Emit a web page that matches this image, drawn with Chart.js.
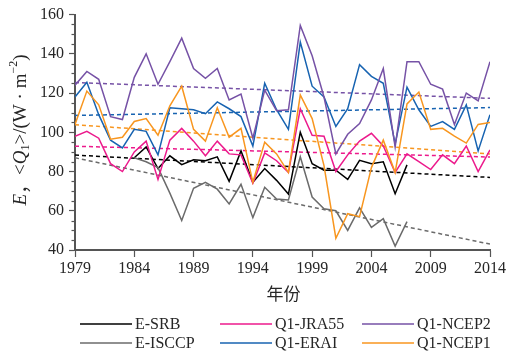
<!DOCTYPE html>
<html>
<head>
<meta charset="utf-8">
<script src="https://cdn.jsdelivr.net/npm/chart.js@4/dist/chart.umd.min.js"></script>
<style>
  html, body { margin: 0; padding: 0; background: #fff; }
  #wrap { width: 514px; height: 355px; }
</style>
</head>
<body>
<div id="wrap"><canvas id="c" width="514" height="355"></canvas></div>
<script>
// Annual mean surface evaporation E and apparent heat source <Q1>, W·m⁻²
const years = [1979,1980,1981,1982,1983,1984,1985,1986,1987,1988,1989,1990,1991,1992,1993,1994,1995,1996,
               1997,1998,1999,2000,2001,2002,2003,2004,2005,2006,2007,2008,2009,2010,2011,2012,2013,2014];

const eSRB = [null,null,null,null,null,87,92.5,81.5,88,83.5,86,85.5,87.5,75,90.5,74.5,81.5,75.5,
              68.5,100,84,80.7,80.7,76,85.7,84,85,68.7,83.4,null,null,null,null,null,null,null];
const eISCCP = [null,null,null,null,null,87,85,82,69,55,71.5,74.5,71,63.5,73.5,56.5,72,66,
                65.5,87.5,67,61,60,50,61.5,51.5,56,42,54.5,null,null,null,null,null,null,null];
const q1JRA55 = [98,100.5,97,84,80,90,95.5,76,96,102,95.5,88,95.5,89,88.5,74,89.5,85.5,
                 79.5,112,98.5,98,80,88.5,95.5,99.5,93,79.5,89,85,81,88.5,84,93,80,91];
const q1ERAI = [118,125.5,109,96,92,101.5,100.5,88.5,112.5,112,111.5,109.5,115.5,112,108,93,125,111.5,
                101.5,146,123.5,118,103,112,134.5,128.5,125,94,123,111.5,103,105.5,101.5,114,90.5,109];
const q1NCEP2 = [124,131,127,108,106.5,128,140,124.5,136,148,132.5,127.5,132.5,116.5,119.5,97,121.5,111,
                 111.5,154.5,139,118,89,99,104.5,116.5,132.5,92.5,136,136,124.5,122,104,120,116,136];
const q1NCEP1 = [104,121,114,96.5,97.5,105.5,107,98.5,113.5,123.5,101.5,95.5,112.5,97.5,102,74.5,95,89,
                 79.5,119,107,83,46,58.5,57,82,96,79.5,114.5,120.5,101.5,102,98,94.5,104,105];

// Linear trend values at the first and last year of the axis
const trendYears = [1979, 2014];
const trendSRB    = [88.4, 77];
const trendISCCP  = [87, 43];
const trendJRA55  = [92.9, 87.4];
const trendERAI   = [108.6, 112.6];
const trendNCEP2  = [125.4, 117.3];
const trendNCEP1  = [103.9, 89];

const xTicks = [1979,1984,1989,1994,1999,2004,2009,2014];
const yTicks = [40,60,80,100,120,140,160];

const series = [
  { label: 'E-SRB',    data: eSRB,    trend: trendSRB,    color: '#000000', order: 5 },
  { label: 'E-ISCCP',  data: eISCCP,  trend: trendISCCP,  color: '#6b6b6b', order: 4 },
  { label: 'Q1-JRA55', data: q1JRA55, trend: trendJRA55,  color: '#ec1a8c', order: 3 },
  { label: 'Q1-ERAI',  data: q1ERAI,  trend: trendERAI,   color: '#1763b1', order: 2 },
  { label: 'Q1-NCEP2', data: q1NCEP2, trend: trendNCEP2,  color: '#7652a6', order: 1 },
  { label: 'Q1-NCEP1', data: q1NCEP1, trend: trendNCEP1,  color: '#f8961f', order: 0 }
];

const datasets = [];
series.forEach(s => {
  datasets.push({
    label: s.label,
    data: years.map((y, i) => ({ x: y, y: s.data[i] })),
    borderColor: s.color,
    borderWidth: 1.5,
    pointRadius: 0,
    fill: false,
    tension: 0,
    spanGaps: false,
    order: s.order,
    isMain: true
  });
  datasets.push({
    label: s.label + ' trend',
    data: trendYears.map((y, i) => ({ x: y, y: s.trend[i] })),
    borderColor: s.color,
    borderWidth: 1.5,
    borderDash: [4, 3],
    pointRadius: 0,
    fill: false,
    order: s.order + 10,
    isMain: false
  });
});

const SERIF = '"Liberation Serif", "Times New Roman", serif';
const CJK = '"Noto Sans CJK SC", sans-serif';
const AXIS_COLOR = '#555555';
const TEXT_COLOR = '#262626';

const decorations = {
  id: 'decorations',
  afterDraw(chart) {
    const ctx = chart.ctx;
    const ys = chart.scales.y;
    const xs = chart.scales.x;
    const left = chart.chartArea.left;

    // minor ticks on the value axis
    ctx.save();
    ctx.strokeStyle = AXIS_COLOR;
    ctx.lineWidth = 1.2;
    for (let v = ys.min; v <= ys.max; v += 5) {
      if (v % 20 === 0) continue;
      const py = Math.round(ys.getPixelForValue(v)) + 0.5;
      ctx.beginPath();
      ctx.moveTo(left - 3.5, py);
      ctx.lineTo(left, py);
      ctx.stroke();
    }
    ctx.restore();

    // value axis title: E，<Q1>/(W · m−2)
    const fs = 19;
    const parts = [
      { t: 'E', font: 'italic ' + fs + 'px ' + SERIF, dy: 0 },
      { t: '，', font: fs + 'px ' + CJK, dy: 0 },
      { t: '<', font: fs + 'px ' + SERIF, dy: 0 },
      { t: 'Q', font: 'italic ' + fs + 'px ' + SERIF, dy: 0 },
      { t: '1', font: Math.round(fs * 0.62) + 'px ' + SERIF, dy: 5 },
      { t: '>/(W · m', font: fs + 'px ' + SERIF, dy: 0 },
      { t: '−2', font: Math.round(fs * 0.62) + 'px ' + SERIF, dy: -7 },
      { t: ')', font: fs + 'px ' + SERIF, dy: 0 }
    ];
    ctx.save();
    let total = 0;
    parts.forEach(p => { ctx.font = p.font; p.w = ctx.measureText(p.t).width; total += p.w; });
    ctx.translate(21, 130);
    ctx.rotate(-Math.PI / 2);
    ctx.fillStyle = TEXT_COLOR;
    ctx.textBaseline = 'middle';
    ctx.textAlign = 'left';
    let cx = -total / 2;
    parts.forEach(p => { ctx.font = p.font; ctx.fillText(p.t, cx, p.dy); cx += p.w; });
    ctx.restore();

    // category axis title
    ctx.save();
    ctx.font = '17px ' + CJK;
    ctx.fillStyle = TEXT_COLOR;
    ctx.textAlign = 'center';
    ctx.textBaseline = 'middle';
    ctx.fillText('年份', (xs.left + xs.right) / 2 + 1, 294);
    ctx.restore();

    // legend: two rows, filled column by column
    const mains = chart.data.datasets.filter(d => d.isMain);
    const colX = [80, 220, 362];
    const rowY = [324, 343];
    const lineLen = 52;
    ctx.save();
    ctx.font = '16px ' + SERIF;
    ctx.textBaseline = 'middle';
    ctx.textAlign = 'left';
    mains.forEach((d, i) => {
      const col = Math.floor(i / 2), row = i % 2;
      const x0 = colX[col], y0 = rowY[row];
      ctx.strokeStyle = d.borderColor;
      ctx.lineWidth = 1.5;
      ctx.beginPath();
      ctx.moveTo(x0, y0);
      ctx.lineTo(x0 + lineLen, y0);
      ctx.stroke();
      ctx.fillStyle = TEXT_COLOR;
      ctx.fillText(d.label, x0 + lineLen + 3, y0 + 1);
    });
    ctx.restore();
  }
};

new Chart(document.getElementById('c'), {
  type: 'line',
  data: { datasets },
  options: {
    responsive: false,
    animation: false,
    devicePixelRatio: 1,
    layout: { padding: { top: 12, right: 24, left: 0, bottom: 0 } },
    plugins: { legend: { display: false }, tooltip: { enabled: false } },
    scales: {
      x: {
        type: 'linear',
        min: 1979,
        max: 2014,
        afterBuildTicks: s => { s.ticks = xTicks.map(v => ({ value: v })); },
        afterFit: s => { s.height = 105; },
        grid: { drawOnChartArea: false, drawTicks: true, tickLength: 7, tickColor: AXIS_COLOR, tickWidth: 1.2 },
        border: { display: true, color: AXIS_COLOR, width: 2 },
        ticks: {
          color: TEXT_COLOR,
          font: { family: SERIF, size: 16 },
          padding: 2,
          maxRotation: 0,
          callback: v => String(v)
        }
      },
      y: {
        type: 'linear',
        min: 40,
        max: 160,
        afterBuildTicks: s => { s.ticks = yTicks.map(v => ({ value: v })); },
        afterFit: s => { s.width = 75; },
        grid: { drawOnChartArea: false, drawTicks: true, tickLength: 6, tickColor: AXIS_COLOR, tickWidth: 1.2 },
        border: { display: true, color: AXIS_COLOR, width: 2 },
        ticks: {
          color: TEXT_COLOR,
          font: { family: SERIF, size: 16 },
          padding: 5
        }
      }
    }
  },
  plugins: [decorations]
});
</script>
</body>
</html>
